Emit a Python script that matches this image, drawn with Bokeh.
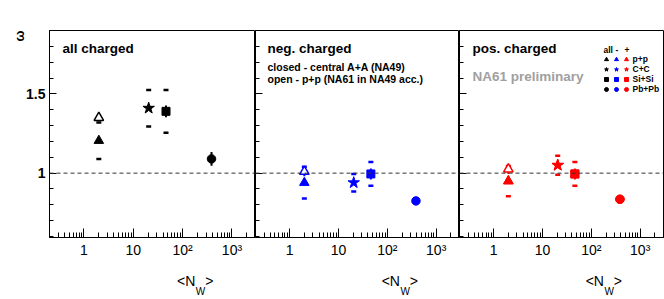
import math
from bokeh.plotting import figure
from bokeh.models import FixedTicker, Span, Label, Legend, LegendItem, LogAxis, LinearAxis
from bokeh.layouts import row
from bokeh.embed import file_html
from bokeh.resources import INLINE

# ---------------- data ----------------
systems = ["p+p", "C+C", "Si+Si", "Pb+Pb"]
markers = ["triangle", "star", "square", "circle"]
nw = [2.0, 20.5, 46.0, 385.0]            # <N_W>, central A+A (NA49) + p+p

omega_all = [1.205, 1.41, 1.39, 1.09]
stat_all = [0.0, 0.0, 0.037, 0.043]
sys_all = [0.115, 0.115, 0.135, 0.0]

omega_neg = [0.94, 0.94, 0.995, 0.825]
stat_neg = [0.0, 0.0, 0.035, 0.0]
sys_neg = [0.10, 0.055, 0.075, 0.0]

omega_pos = [0.95, 1.05, 0.995, 0.835]
stat_pos = [0.0, 0.0, 0.035, 0.0]
sys_pos = [0.095, 0.06, 0.075, 0.0]

# p+p, NA61 in NA49 acceptance (open symbol)
pp_nw = [2.0]
pp_all = [1.35]
pp_all_stat = [0.0]
pp_neg = [1.01]
pp_neg_stat = [0.03]
pp_pos = [1.025]
pp_pos_stat = [0.03]

x_major = [1, 10, 100, 1000]
x_minor = [0.3, 0.4, 0.5, 0.6, 0.7, 0.8, 0.9, 2, 3, 4, 5, 6, 7, 8, 9,
           20, 30, 40, 50, 60, 70, 80, 90, 200, 300, 400, 500, 600, 700, 800, 900, 2000, 3000]
x_labels = {1: "1", 10: "10", 100: "10²", 1000: "10³"}
y_major = [1.0, 1.5]
y_minor = [0.6, 0.7, 0.8, 0.9, 1.1, 1.2, 1.3, 1.4, 1.6, 1.7, 1.8, 1.9]

# axis titles placed as labels of text-only axes (anchor positions in axis units)
xtitle_at = 180
xtitle_sub_at = 231
ytitle_at = 1.9

FONT = "Liberation Sans"
msize = {"triangle": 9.5, "star": 12, "square": 8, "circle": 8.5}


def plain_axis(ax, size, standoff, style="normal"):
    ax.axis_line_color = None
    ax.major_tick_line_color = None
    ax.minor_tick_line_color = None
    ax.major_tick_in = 0
    ax.major_tick_out = 0
    ax.minor_tick_in = 0
    ax.minor_tick_out = 0
    ax.major_label_standoff = standoff
    ax.major_label_text_font = FONT
    ax.major_label_text_font_size = size
    ax.major_label_text_font_style = style
    ax.major_label_text_color = "black"
    return ax


def text_xaxis(p, tick, label, size, standoff):
    ax = LogAxis(ticker=FixedTicker(ticks=[tick], minor_ticks=[]),
                 major_label_overrides={tick: label})
    p.add_layout(plain_axis(ax, size, standoff), "below")


def make_panel(idx, color, omega, stat, sysr, pp, pp_stat):
    left = 49 if idx == 0 else 0
    right = 1 if idx == 2 else 0
    p = figure(width=204 + left + right + (2 if idx == 0 else 0), height=299,
               x_axis_type="log", x_range=(0.2, 3000), y_range=(0.594, 1.9),
               output_backend="svg", toolbar_location=None,
               min_border_left=left, min_border_right=right,
               min_border_top=30, min_border_bottom=60)
    p.grid.visible = False
    p.outline_line_color = "black"
    p.outline_line_width = 1
    p.background_fill_color = "white"
    p.border_fill_color = "white"

    xa = p.xaxis[0]
    xa.ticker = FixedTicker(ticks=x_major, minor_ticks=x_minor)
    xa.major_label_overrides = x_labels
    xa.major_tick_in = 9
    xa.major_tick_out = 0
    xa.minor_tick_in = 5
    xa.minor_tick_out = 0
    xa.major_label_standoff = 4
    xa.major_label_text_font = FONT
    xa.major_label_text_font_size = "14px"
    xa.major_label_text_color = "black"
    xa.axis_line_color = "black"

    ya = p.yaxis[0]
    ya.ticker = FixedTicker(ticks=y_major, minor_ticks=y_minor)
    ya.major_tick_in = 7
    ya.major_tick_out = 0
    ya.minor_tick_in = 4
    ya.minor_tick_out = 0
    ya.axis_line_color = "black"
    if idx == 0:
        ya.major_label_overrides = {1: "1", 1.5: "1.5"}
        ya.major_label_standoff = 4
        ya.major_label_text_font = FONT
        ya.major_label_text_font_size = "14px"
        ya.major_label_text_font_style = "bold"
        ya.major_label_text_color = "black"
    else:
        ya.major_label_overrides = {1: "", 1.5: ""}
        ya.major_label_standoff = 0
        ya.major_label_text_font_size = "0px"

    p.add_layout(Span(location=1.0, dimension="width", line_color="#333333",
                      line_width=1, line_dash="4 3"))

    # systematic errors (dashes) and statistical errors (bars)
    for i, m in enumerate(markers):
        x = nw[i]
        if sysr[i] > 0:
            p.scatter([x, x], [omega[i] - sysr[i], omega[i] + sysr[i]], marker="dash",
                      size=5, line_color=color, line_width=2.5)
        if stat[i] > 0:
            p.segment(x0=[x], y0=[omega[i] - stat[i]], x1=[x], y1=[omega[i] + stat[i]],
                      line_color=color, line_width=2)
    if pp_stat[0] > 0:
        p.segment(x0=pp_nw, y0=[pp[0] - pp_stat[0]], x1=pp_nw, y1=[pp[0] + pp_stat[0]],
                  line_color=color, line_width=2)

    # open p+p (NA61)
    p.scatter(pp_nw, pp, marker="triangle", size=msize["triangle"], fill_color="white",
              line_color=color, line_width=1.5)
    # closed symbols (central A+A, NA49)
    for i, m in enumerate(markers):
        p.scatter([nw[i]], [omega[i]], marker=m, size=msize[m], fill_color=color,
                  line_color=color)

    # x axis title <N_W>
    text_xaxis(p, xtitle_at, "<N\u2002\u2009>", "14px", 12)
    text_xaxis(p, xtitle_sub_at, "W", "10px", -6)
    return p


def txt(p, x, y, s, size, color="black", style="bold"):
    p.add_layout(Label(x=x, y=y, x_units="screen", y_units="screen", text=s,
                       text_font=FONT, text_font_size=size, text_font_style=style,
                       text_color=color, text_baseline="middle", text_align="left"))


p1 = make_panel(0, "black", omega_all, stat_all, sys_all, pp_all, pp_all_stat)
p2 = make_panel(1, "#0000ff", omega_neg, stat_neg, sys_neg, pp_neg, pp_neg_stat)
p3 = make_panel(2, "#ff0000", omega_pos, stat_pos, sys_pos, pp_pos, pp_pos_stat)

# y axis title omega (rotated, at the top)
yt = LinearAxis(ticker=FixedTicker(ticks=[ytitle_at], minor_ticks=[]),
                major_label_overrides={ytitle_at: "ω"},
                major_label_orientation=math.pi / 2)
p1.add_layout(plain_axis(yt, "13px", 4, "bold"), "left")

txt(p1, 13, 189, "all charged", "13.5px")
txt(p2, 12, 189, "neg. charged", "13.5px")
txt(p2, 12, 171, "closed - central A+A (NA49)", "10.5px")
txt(p2, 12, 159, "open - p+p (NA61 in NA49 acc.)", "10.5px")
txt(p3, 13, 189, "pos. charged", "13.5px")
txt(p3, 13, 161, "NA61 preliminary", "13.5px", color="#a0a0a0")

# legend (three symbol columns: all, -, +)
txt(p3, 144, 188, "all", "8.5px")
txt(p3, 156, 188, "-", "8.5px")
txt(p3, 165, 188, "+", "8.5px")
series = [("black", omega_all, False, 141.5, ["", "", "", ""]),
          ("#0000ff", omega_neg, False, 151.5, ["", "", "", ""]),
          ("#ff0000", omega_pos, True, 161.5, systems)]
for color, om, vis, x_left, labels in series:
    items = []
    for i, (m, lab) in enumerate(zip(markers, labels)):
        r = p3.scatter([nw[i]], [om[i]], marker=m, size=msize[m], fill_color=color,
                       line_color=color, visible=vis)
        items.append(LegendItem(label=lab, renderers=[r]))
    leg = Legend(items=items, location=(x_left, 143), padding=0, margin=0, spacing=0,
                 glyph_width=10, glyph_height=10, label_height=10, label_standoff=2,
                 label_text_font=FONT, label_text_font_size="8.5px",
                 label_text_font_style="bold", label_text_color="black",
                 border_line_color=None, background_fill_alpha=0,
                 inactive_fill_alpha=0)
    p3.add_layout(leg)

layout = row(p1, p2, p3, spacing=0)
open("out.html", "w").write(file_html(layout, INLINE))
